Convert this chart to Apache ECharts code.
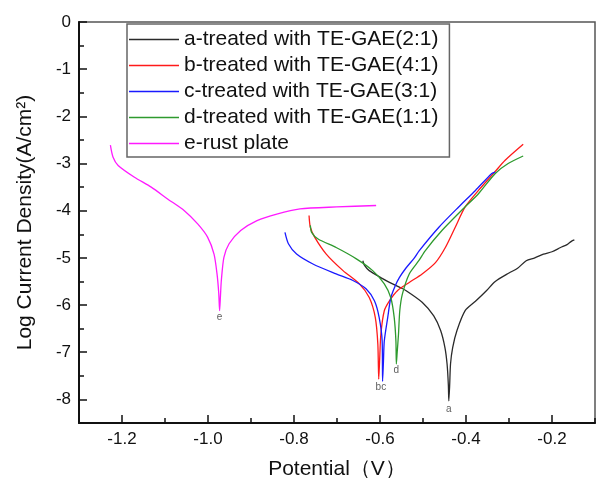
<!DOCTYPE html>
<html>
<head>
<meta charset="utf-8">
<script src="https://cdn.jsdelivr.net/npm/echarts@6/dist/echarts.min.js"></script>
<style>html,body{margin:0;padding:0;background:#fff}#c{width:596px;height:478px}</style>
</head>
<body>
<div id="c"></div>
<script>
var seriesNames = [
  'a-treated with TE-GAE(2:1)',
  'b-treated with TE-GAE(4:1)',
  'c-treated with TE-GAE(3:1)',
  'd-treated with TE-GAE(1:1)',
  'e-rust plate'
];
var aPotential = [-0.640,-0.636,-0.625,-0.594,-0.578,-0.555,-0.540,-0.502,-0.475,-0.459,-0.449,-0.444,-0.441,-0.440,-0.438,-0.436,-0.431,-0.421,-0.402,-0.378,-0.352,-0.332,-0.300,-0.280,-0.260,-0.240,-0.220,-0.200,-0.180,-0.165,-0.155,-0.148];
var aLogI      = [-5.06,-5.16,-5.27,-5.44,-5.52,-5.62,-5.69,-5.94,-6.23,-6.54,-6.90,-7.25,-7.70,-8.03,-7.70,-7.25,-6.90,-6.54,-6.12,-5.92,-5.69,-5.50,-5.32,-5.22,-5.06,-5.00,-4.92,-4.87,-4.78,-4.72,-4.65,-4.62];
var bPotential = [-0.765,-0.762,-0.752,-0.725,-0.686,-0.648,-0.625,-0.611,-0.605,-0.603,-0.601,-0.598,-0.590,-0.578,-0.559,-0.532,-0.502,-0.471,-0.448,-0.425,-0.402,-0.371,-0.336,-0.309,-0.267];
var bLogI      = [-4.10,-4.35,-4.56,-4.92,-5.27,-5.55,-5.84,-6.26,-6.83,-7.57,-7.20,-6.62,-6.12,-5.91,-5.69,-5.52,-5.34,-5.10,-4.78,-4.35,-3.92,-3.57,-3.21,-2.93,-2.59];
var cPotential = [-0.821,-0.813,-0.794,-0.756,-0.702,-0.663,-0.632,-0.613,-0.602,-0.595,-0.594,-0.592,-0.590,-0.582,-0.575,-0.565,-0.555,-0.540,-0.520,-0.509,-0.463,-0.417,-0.378,-0.340,-0.332];
var cLogI      = [-4.46,-4.70,-4.92,-5.13,-5.34,-5.48,-5.66,-5.91,-6.26,-6.76,-7.62,-7.20,-6.76,-6.26,-5.85,-5.60,-5.42,-5.22,-5.00,-4.85,-4.35,-3.92,-3.57,-3.21,-3.18];
var dPotential = [-0.762,-0.759,-0.744,-0.702,-0.655,-0.617,-0.590,-0.575,-0.567,-0.563,-0.562,-0.560,-0.557,-0.554,-0.548,-0.532,-0.509,-0.495,-0.456,-0.410,-0.371,-0.332,-0.302,-0.267];
var dLogI      = [-4.31,-4.46,-4.60,-4.78,-5.02,-5.27,-5.55,-5.84,-6.26,-6.76,-7.25,-7.00,-6.62,-6.12,-5.77,-5.34,-5.05,-4.85,-4.42,-3.99,-3.64,-3.21,-3.00,-2.84];
var ePotential = [-1.227,-1.221,-1.209,-1.171,-1.132,-1.094,-1.055,-1.024,-1.001,-0.986,-0.979,-0.975,-0.973,-0.971,-0.969,-0.963,-0.951,-0.924,-0.886,-0.840,-0.786,-0.701,-0.609];
var eLogI      = [-2.61,-2.86,-3.04,-3.29,-3.50,-3.75,-4.00,-4.28,-4.56,-4.92,-5.34,-5.75,-6.12,-5.80,-5.48,-4.99,-4.70,-4.42,-4.21,-4.07,-3.96,-3.92,-3.89];
var curveLabels    = ['e', 'bc', 'd', 'a'];
var labelPotential = [-0.973, -0.598, -0.562, -0.440];
var labelLogI      = [-6.26, -7.75, -7.38, -8.21];
var xMajorTicks = [-1.2, -1.0, -0.8, -0.6, -0.4, -0.2];
var yMajorTicks = [0, -1, -2, -3, -4, -5, -6, -7, -8];
var colors = ['#2a2a2a', '#ff1a1a', '#1a1aff', '#2e9a2e', '#ff1aff'];

function zip(xs, ys) { return xs.map(function (x, i) { return [x, ys[i]]; }); }
var xs = [aPotential, bPotential, cPotential, dPotential, ePotential];
var ys = [aLogI, bLogI, cLogI, dLogI, eLogI];
var FONT = 'Liberation Sans, Arial, sans-serif';

var series = seriesNames.map(function (n, i) {
  return {
    name: n, type: 'line', data: zip(xs[i], ys[i]), symbol: 'none', smooth: 0.25,
    lineStyle: { color: colors[i], width: 1.3 }, itemStyle: { color: colors[i] },
    xAxisIndex: 0, yAxisIndex: 0
  };
});
series.push({
  name: 'labels', type: 'scatter', symbolSize: 1, itemStyle: { color: 'transparent' },
  data: curveLabels.map(function (t, i) { return [labelPotential[i], labelLogI[i], t]; }),
  label: { show: true, position: 'inside', formatter: function (p) { return p.value[2]; },
           fontSize: 10, color: '#333', fontFamily: FONT },
  xAxisIndex: 0, yAxisIndex: 0
});

var chart = echarts.init(document.getElementById('c'));
chart.setOption({
  animation: false,
  textStyle: { fontFamily: FONT },
  grid: { left: 79, right: 1, top: 22, bottom: 55, show: true, borderColor: '#555', borderWidth: 1.5,
          outerBoundsMode: 'none', containLabel: false },
  legend: {
    data: seriesNames, orient: 'vertical', left: 127, top: 24, icon: 'rect',
    itemWidth: 50, itemHeight: 1.5, itemGap: 5,
    padding: [5, 11, 3, 2], borderColor: '#666', borderWidth: 1.5, backgroundColor: '#fff',
    textStyle: { fontSize: 21, lineHeight: 21, color: '#111', fontFamily: FONT }
  },
  xAxis: [{
    type: 'value', min: -1.3, max: -0.1, position: 'bottom',
    name: 'Potential（V）', nameLocation: 'middle', nameGap: 36,
    nameTextStyle: { fontSize: 21, color: '#111', fontFamily: FONT },
    axisLine: { show: true, onZero: false, lineStyle: { color: '#111', width: 2 } },
    axisTick: { show: true, inside: true, length: 8, customValues: xMajorTicks, lineStyle: { color: '#111', width: 1.5 } },
    axisLabel: { show: true, customValues: xMajorTicks, margin: 8, fontSize: 17, color: '#111',
                 formatter: function (v) { return v.toFixed(1); } },
    splitLine: { show: false }
  }, {
    type: 'value', min: -1.3, max: -0.1, interval: 0.1, position: 'bottom',
    axisLine: { show: false, onZero: false },
    axisTick: { show: true, inside: true, length: 5, lineStyle: { color: '#111', width: 1.5 } },
    axisLabel: { show: false }, splitLine: { show: false }
  }],
  yAxis: [{
    type: 'value', min: -8.5, max: 0, position: 'left',
    name: 'Log Current Density(A/cm²)', nameLocation: 'middle', nameGap: 43, nameRotate: 90,
    nameTextStyle: { fontSize: 21, color: '#111', fontFamily: FONT },
    axisLine: { show: true, onZero: false, lineStyle: { color: '#111', width: 2 } },
    axisTick: { show: true, inside: true, length: 8, customValues: yMajorTicks, lineStyle: { color: '#111', width: 1.5 } },
    axisLabel: { show: true, customValues: yMajorTicks, margin: 8, fontSize: 17, color: '#111' },
    splitLine: { show: false }
  }, {
    type: 'value', min: -8.5, max: 0, interval: 0.5, position: 'left',
    axisLine: { show: false, onZero: false },
    axisTick: { show: true, inside: true, length: 5, lineStyle: { color: '#111', width: 1.5 } },
    axisLabel: { show: false }, splitLine: { show: false }
  }],
  series: series
});
</script>
</body>
</html>
